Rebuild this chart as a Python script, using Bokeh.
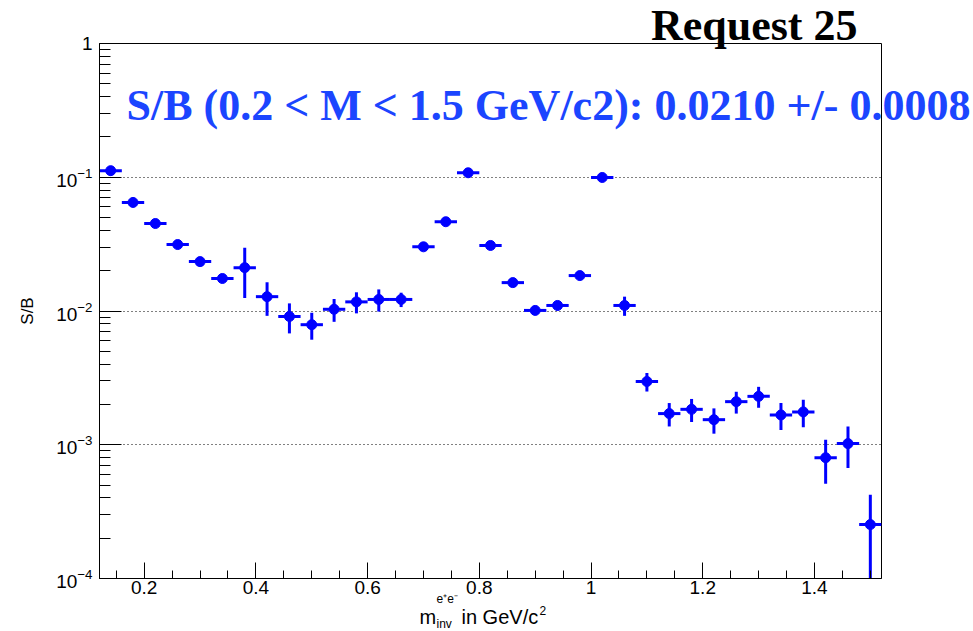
from bokeh.plotting import figure
from bokeh.models import (FixedTicker, PrintfTickFormatter, LogTickFormatter, Label,
                          ColumnDataSource, Range1d)
from bokeh.embed import file_html
from bokeh.resources import INLINE

# ---- data ----
bin_centers = [0.14, 0.18, 0.22, 0.26, 0.30, 0.34, 0.38, 0.42, 0.46, 0.50,
               0.54, 0.58, 0.62, 0.66, 0.70, 0.74, 0.78, 0.82, 0.86, 0.90,
               0.94, 0.98, 1.02, 1.06, 1.10, 1.14, 1.18, 1.22, 1.26, 1.30,
               1.34, 1.38, 1.42, 1.46, 1.50]
sb_values = [0.112, 0.0648, 0.0451, 0.0314, 0.0234, 0.0175, 0.0211, 0.0128, 0.0091, 0.0079,
             0.0103, 0.0117, 0.0122, 0.0122, 0.0302, 0.0465, 0.108, 0.0309, 0.0163, 0.0101,
             0.0110, 0.0184, 0.0996, 0.0110, 0.00297, 0.00171, 0.00184, 0.00154, 0.00210, 0.00230,
             0.00167, 0.00176, 0.00080, 0.00102, 0.000253]
sb_errors = [0.009, 0.004, 0.003, 0.002, 0.0016, 0.0013, 0.0086, 0.0036, 0.0023, 0.0018,
             0.0020, 0.0021, 0.0023, 0.0015, 0.002, 0.003, 0.007, 0.002, 0.0011, 0.0007,
             0.0009, 0.0012, 0.006, 0.0018, 0.00047, 0.00034, 0.00036, 0.00033, 0.00039, 0.00041,
             0.00038, 0.00041, 0.00029, 0.00035, 0.00017]
bin_half_width = 0.02

x_major_ticks = [0.2, 0.4, 0.6, 0.8, 1.0, 1.2, 1.4]
y_major_ticks = [1e-4, 1e-3, 1e-2, 1e-1, 1.0]
y_axis_title = "S/B"
title_text = "Request 25"
ratio_text = "S/B (0.2 < M < 1.5 GeV/c2): 0.0210 +/- 0.0008"

W, H = 973, 631
BLUE = "#0000ff"
TXT_BLUE = "#1b45ff"
SANS = "Liberation Sans"
SERIF = "Liberation Serif"

src = ColumnDataSource(dict(
    x=bin_centers,
    y=sb_values,
    lo=[max(v - e, 1e-6) for v, e in zip(sb_values, sb_errors)],
    hi=[v + e for v, e in zip(sb_values, sb_errors)],
    xl=[c - bin_half_width for c in bin_centers],
    xr=[c + bin_half_width for c in bin_centers],
))

p = figure(width=W, height=H, x_range=Range1d(0.12, 1.52), y_range=Range1d(1e-4, 1.0),
           y_axis_type="log", output_backend="svg", toolbar_location=None,
           min_border_left=99, min_border_right=92, min_border_top=43, min_border_bottom=53)
p.background_fill_color = "white"
p.border_fill_color = "white"
p.outline_line_color = "black"
p.outline_line_width = 1

# x axis
x_minor = [round(0.15 + 0.05 * i, 2) for i in range(28)]
p.xaxis.ticker = FixedTicker(ticks=x_major_ticks, minor_ticks=x_minor)
p.xaxis.formatter = PrintfTickFormatter(format="%g")
p.xaxis.major_tick_in = 16
p.xaxis.major_tick_out = 0
p.xaxis.minor_tick_in = 8
p.xaxis.minor_tick_out = 0
p.xaxis.axis_line_color = "black"
p.xaxis.major_tick_line_color = "black"
p.xaxis.minor_tick_line_color = "black"
p.xaxis.major_label_text_font = SANS
p.xaxis.major_label_text_font_size = "19px"
p.xaxis.major_label_text_color = "black"
p.xaxis.major_label_standoff = 2

# y axis
y_minor = [k * 10.0 ** e for e in range(-4, 0) for k in range(2, 10)]
p.yaxis.ticker = FixedTicker(ticks=y_major_ticks, minor_ticks=y_minor)
p.yaxis.formatter = LogTickFormatter()
p.yaxis.major_label_overrides = {1.0: "1"}
p.yaxis.major_tick_in = 22
p.yaxis.major_tick_out = 0
p.yaxis.minor_tick_in = 11
p.yaxis.minor_tick_out = 0
p.yaxis.axis_line_color = "black"
p.yaxis.major_tick_line_color = "black"
p.yaxis.minor_tick_line_color = "black"
p.yaxis.major_label_text_font = SANS
p.yaxis.major_label_text_font_size = "19px"
p.yaxis.major_label_text_color = "black"
p.yaxis.major_label_standoff = 7
p.yaxis.axis_label = y_axis_title
p.yaxis.axis_label_text_font = SANS
p.yaxis.axis_label_text_font_style = "normal"
p.yaxis.axis_label_text_font_size = "17px"
p.yaxis.axis_label_text_color = "black"
p.yaxis.axis_label_standoff = 16

p.xgrid.visible = False
p.ygrid.ticker = FixedTicker(ticks=y_major_ticks[1:4])
p.ygrid.grid_line_color = "black"
p.ygrid.grid_line_dash = "1 3"
p.ygrid.grid_line_width = 1

# data: error bars and markers
p.segment(x0="xl", y0="y", x1="xr", y1="y", source=src, line_color=BLUE, line_width=3)
p.segment(x0="x", y0="lo", x1="x", y1="hi", source=src, line_color=BLUE, line_width=3)
p.scatter("x", "y", source=src, marker="circle", size=10, fill_color=BLUE, line_color=BLUE)

# ---- transparent text layer covering the whole canvas (texts may cross the frame) ----
q = figure(width=W, height=H, x_range=Range1d(0, W), y_range=Range1d(0, H),
           output_backend="svg", toolbar_location=None, min_border=0,
           x_axis_location=None, y_axis_location=None,
           styles={"position": "absolute", "left": "0px", "top": "0px"})
q.background_fill_color = None
q.border_fill_color = None
q.outline_line_color = None
q.xgrid.visible = False
q.ygrid.visible = False


def lab(text, x, y_from_top, size, font=SANS, align="left", color="black", style="normal"):
    q.add_layout(Label(x=x, y=H - y_from_top, text=text, text_align=align,
                       text_baseline="alphabetic", text_font=font, text_font_size=size,
                       text_font_style=style, text_color=color))


# x axis title: m^{e+e-}_{inv} in GeV/c^2
lab("m", 419, 616, "20px")
lab("e\u207ae\u207b", 436, 598, "12px")
lab("inv", 436, 623, "12px")
lab("in GeV/c", 461, 616, "20px")
lab("2", 539, 610, "12px")

# texts on top
lab(title_text, 857, 25, "44px", font=SERIF, align="right", style="bold")
lab(ratio_text, 126, 105, "44px", font=SERIF, color=TXT_BLUE, style="bold")

open("out.html", "w").write(file_html([p, q], INLINE))
